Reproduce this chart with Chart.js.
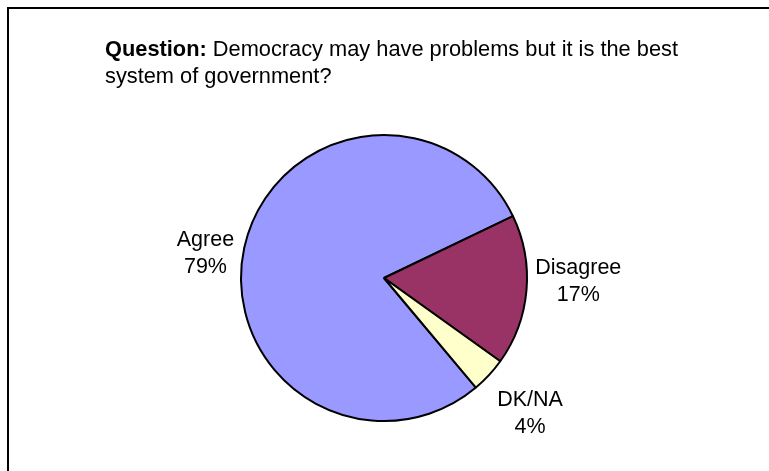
<!DOCTYPE html>
<html>
<head>
<meta charset="utf-8">
<script src="https://cdn.jsdelivr.net/npm/chart.js@4/dist/chart.umd.min.js"></script>
<style>
  html, body { margin: 0; padding: 0; background: #ffffff; overflow: hidden; }
  #wrap { position: relative; width: 769px; height: 471px; }
  canvas { display: block; }
</style>
</head>
<body>
<div id="wrap"><canvas id="c" width="769" height="471"></canvas></div>
<script>
// ---- data ----
const categories = ["Agree", "Disagree", "DK/NA"];
const shares = [79, 17, 4];
const percentLabels = ["79%", "17%", "4%"];
const titleBold = "Question:";
const titleLine1 = " Democracy may have problems but it is the best";
const titleLine2 = "system of government?";

const colors = ["#9999FF", "#993366", "#FFFFCC"];
const FONT = '"Liberation Sans", Arial, Helvetica, sans-serif';

const framePlugin = {
  id: 'frame',
  beforeDraw(chart) {
    const ctx = chart.ctx;
    ctx.save();
    ctx.fillStyle = '#ffffff';
    ctx.fillRect(0, 0, chart.width, chart.height);
    ctx.strokeStyle = '#000000';
    ctx.lineWidth = 2;
    ctx.beginPath();
    ctx.moveTo(8, chart.height + 5);
    ctx.lineTo(8, 8);
    ctx.lineTo(chart.width + 5, 8);
    ctx.stroke();
    ctx.restore();
  }
};

const titlePlugin = {
  id: 'mixedTitle',
  afterDraw(chart) {
    const ctx = chart.ctx;
    ctx.save();
    ctx.fillStyle = '#000000';
    ctx.textBaseline = 'alphabetic';
    ctx.textAlign = 'left';
    const x = 105;
    ctx.font = 'bold 21.8px ' + FONT;
    ctx.fillText(titleBold, x, 56);
    const w = ctx.measureText(titleBold).width;
    ctx.font = '21.8px ' + FONT;
    ctx.fillText(titleLine1, x + w, 56);
    ctx.fillText(titleLine2, x, 83);
    ctx.restore();
  }
};

const labelPlugin = {
  id: 'sliceLabels',
  afterDatasetsDraw(chart, args, opts) {
    const ctx = chart.ctx;
    const meta = chart.getDatasetMeta(0);
    ctx.save();
    ctx.fillStyle = '#000000';
    ctx.font = '21.5px ' + FONT;
    ctx.textAlign = 'center';
    ctx.textBaseline = 'middle';
    const lh = opts.lineHeight;
    meta.data.forEach((arc, i) => {
      const p = arc.getProps(['x', 'y', 'startAngle', 'endAngle', 'outerRadius'], true);
      const mid = (p.startAngle + p.endAngle) / 2;
      const dx = Math.cos(mid), dy = Math.sin(mid);
      const lines = [categories[i], percentLabels[i]];
      const w = Math.max(...lines.map(t => ctx.measureText(t).width));
      const h = lh * lines.length;
      const nudge = opts.nudge[i] || [0, 0];
      const cx = p.x + dx * (p.outerRadius + opts.gap) + dx * w / 2 + nudge[0];
      const cy = p.y + dy * (p.outerRadius + opts.gap) + dy * h / 2 + nudge[1];
      lines.forEach((t, k) => {
        ctx.fillText(t, cx, cy + (k - (lines.length - 1) / 2) * lh);
      });
    });
    ctx.restore();
  }
};

new Chart(document.getElementById('c'), {
  type: 'pie',
  data: {
    labels: categories,
    datasets: [{
      data: shares,
      backgroundColor: colors,
      borderColor: '#000000',
      borderWidth: 2,
      hoverOffset: 0
    }]
  },
  options: {
    responsive: false,
    animation: false,
    rotation: 140,
    radius: 143,
    layout: { padding: { left: 100, right: 101, top: 120, bottom: 35 } },
    plugins: {
      legend: { display: false },
      tooltip: { enabled: false },
      title: { display: false },
      sliceLabels: { gap: 11, lineHeight: 27, nudge: [[0, 14], [-2, -12], [9, 13]] }
    }
  },
  plugins: [framePlugin, titlePlugin, labelPlugin]
});
</script>
</body>
</html>
